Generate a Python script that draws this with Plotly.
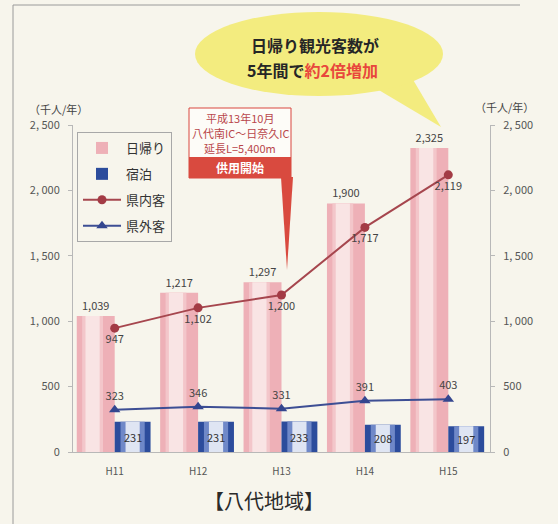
import plotly.graph_objects as go

# ---- data ----
categories = ["H11", "H12", "H13", "H14", "H15"]
daytrip = [1039, 1217, 1297, 1900, 2325]       # 日帰り
overnight = [231, 231, 233, 208, 197]          # 宿泊
in_pref = [947, 1102, 1200, 1717, 2119]        # 県内客
out_pref = [323, 346, 331, 391, 403]           # 県外客
ytick_vals = [0, 500, 1000, 1500, 2000, 2500]
ytick_text = ["0", "500", "1, 000", "1, 500", "2, 000", "2, 500"]

W, H = 558, 524
L, R, T, B = 73, 68, 125, 72
PW, PH = W - L - R, H - T - B
JP = "Noto Sans CJK JP"
BG = "#f7f5ec"


def px(x):
    return (x - L) / PW


def py(y):
    return (H - B - y) / PH


fig = go.Figure()

# pink bars (日帰り) with layered shading
pink_layers = [(-0.455, 0.455, "#eeb0b7"), (-0.39, 0.25, "#f3c6ca"), (-0.35, 0.17, "#f9e4e4")]
for i, (off, wd, col) in enumerate(pink_layers):
    fig.add_trace(go.Bar(
        x=categories, y=daytrip, name="日帰り", offset=off, width=wd,
        marker=dict(color=col, line=dict(width=0)),
        showlegend=(i == 0), legendgroup="a",
        texttemplate="%{y:,}" if i == 0 else None,
        textposition="outside" if i == 0 else "none",
        textfont=dict(size=11, color="#444", family=JP),
        constraintext="none", cliponaxis=False, hoverinfo="skip"))

# blue bars (宿泊) with layered shading
blue_layers = [(0.0, 0.43, "#2c4c9c"), (0.07, 0.29, "#6f88c8"), (0.13, 0.17, "#dfe5f3")]
for i, (off, wd, col) in enumerate(blue_layers):
    fig.add_trace(go.Bar(
        x=categories, y=overnight, name="宿泊", offset=off, width=wd,
        marker=dict(color=col, line=dict(width=0)),
        showlegend=(i == 0), legendgroup="b", hoverinfo="skip"))

fig.add_trace(go.Scatter(
    x=categories, y=in_pref, name="県内客", yaxis="y2", legendgroup="c",
    mode="lines+markers+text", line=dict(color="#a6464e", width=2),
    marker=dict(symbol="circle", size=9, color="#a33b45"),
    texttemplate="%{y:,}", textposition="bottom center",
    textfont=dict(size=11, color="#444", family=JP), cliponaxis=False))

fig.add_trace(go.Scatter(
    x=categories, y=out_pref, name="県外客", yaxis="y2", legendgroup="d",
    mode="lines+markers+text", line=dict(color="#3d4e94", width=2),
    marker=dict(symbol="triangle-up", size=10, color="#34468f"),
    texttemplate="%{y:,}", textposition="top center",
    textfont=dict(size=11, color="#444", family=JP), cliponaxis=False))

annotations = []
# 宿泊 labels inside bars
for c, v in zip(categories, overnight):
    annotations.append(dict(x=c, y=v / 2, xref="x", yref="y", text=str(v),
                            showarrow=False, xshift=0.215 * PW / 5,
                            xanchor="center", yanchor="middle",
                            font=dict(size=11, color="#333", family=JP)))


def note(x, y, text, size, color):
    return dict(x=px(x), y=py(y), xref="paper", yref="paper", showarrow=False,
                xanchor="center", yanchor="middle", text=text,
                font=dict(size=size, color=color, family=JP))


annotations += [
    note(315, 45, "<b>日帰り観光客数が</b>", 16, "#262626"),
    note(312, 70, "<b>5年間で<span style='color:#e8473c'>約2倍増加</span></b>", 16, "#262626"),
    note(240, 118, "平成13年10月", 11, "#b9474b"),
    note(240, 133, "八代南IC～日奈久IC", 11, "#b9474b"),
    note(240, 148, "延長L=5,400m", 11, "#b9474b"),
    note(240, 167, "<b>供用開始</b>", 12, "#ffffff"),
    note(58, 109, "（千人/年）", 11, "#444"),
    note(504, 107, "（千人/年）", 11, "#444"),
    note(264, 500, "【八代地域】", 20, "#2a2a2a"),
]


def poly(points):
    return "M " + " L ".join(f"{px(a)},{py(b)}" for a, b in points) + " Z"


shapes = [
    # outer frame lines
    dict(type="line", xref="paper", yref="paper", x0=px(13), x1=px(13), y0=py(5), y1=py(524),
         line=dict(color="#9a9a9a", width=1)),
    dict(type="line", xref="paper", yref="paper", x0=px(13), x1=px(520), y0=py(5), y1=py(5),
         line=dict(color="#9a9a9a", width=1)),
    # yellow speech bubble
    dict(type="path", xref="paper", yref="paper", path=poly([(372, 86), (412, 78), (441, 127)]),
         fillcolor="#f3ec7f", line=dict(width=0)),
    dict(type="circle", xref="paper", yref="paper", x0=px(195), x1=px(443), y0=py(12), y1=py(96),
         fillcolor="#f3ec7f", line=dict(width=0)),
    # red call-out box
    dict(type="rect", xref="paper", yref="paper", x0=px(189), x1=px(291), y0=py(108), y1=py(178),
         fillcolor="#fdfcf8", line=dict(color="#d9473e", width=1)),
    dict(type="rect", xref="paper", yref="paper", x0=px(189), x1=px(291), y0=py(157), y1=py(178),
         fillcolor="#d94a3f", line=dict(width=0)),
    dict(type="path", xref="paper", yref="paper", path=poly([(281, 177), (293, 177), (287, 270)]),
         fillcolor="#d94a3f", line=dict(width=0)),
]

yax = dict(range=[0, 2500], tickvals=ytick_vals, ticktext=ytick_text, showgrid=False,
           zeroline=False, showline=True, linecolor="#b8b8b8", ticks="outside", ticklen=4,
           tickcolor="#b8b8b8", ticklabelstandoff=6,
           tickfont=dict(size=11, color="#555", family=JP))

fig.update_layout(
    width=W, height=H, margin=dict(l=L, r=R, t=T, b=B, pad=0),
    paper_bgcolor=BG, plot_bgcolor=BG, barmode="overlay",
    font=dict(family=JP, color="#333"),
    xaxis=dict(type="category", range=[-0.5, 4.5], showline=True, linecolor="#b8b8b8",
               showgrid=False, ticks="", ticklabelstandoff=10,
               tickfont=dict(size=10, color="#555", family=JP)),
    yaxis=yax,
    yaxis2=dict(yax, overlaying="y", side="right"),
    legend=dict(x=px(77), y=py(132), xanchor="left", yanchor="top", bgcolor=BG,
                bordercolor="#a8a8a8", borderwidth=1, tracegroupgap=6, itemwidth=38,
                font=dict(size=13, color="#333", family=JP)),
    annotations=annotations, shapes=shapes,
)

fig.write_html("out.html", config={"displayModeBar": False},
               post_script="document.body.style.margin='0';")
